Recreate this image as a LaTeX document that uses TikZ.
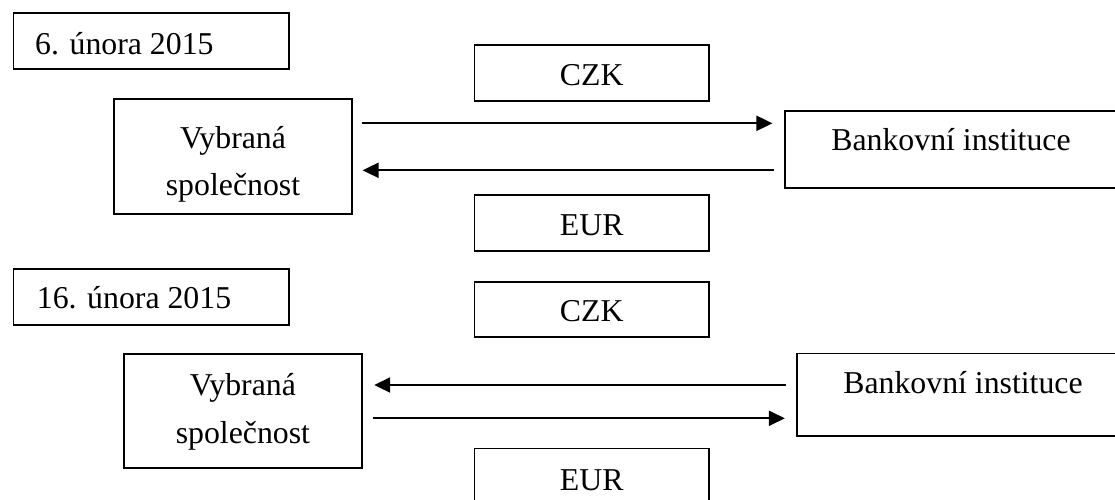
\documentclass[tikz,border=0pt]{standalone}
\usepackage{fontspec}
\setmainfont{Liberation Serif}
\usetikzlibrary{arrows.meta}
\begin{document}
\begin{tikzpicture}[x=1pt,y=-1pt,
  box/.style={draw=black,line width=1.7pt,rectangle,inner sep=0pt},
  txt/.style={inner sep=0pt,font=\fontsize{31.8}{37}\selectfont},
  arr/.style={line width=2pt,-{Triangle[length=16pt,width=15pt]}}]
\useasboundingbox (0,0) rectangle (1115,499);
\clip (0,0) rectangle (1115,499);
% section 1
\node[box,minimum width=275.7pt,minimum height=56pt] (date1) at (151.2,41.3) {};
\node[txt,anchor=base west] (date1t) at (35,54) {6. února 2015};
\node[box,minimum width=237.4pt,minimum height=115pt] (vyb1) at (233,156.8) {};
\node[txt,anchor=base] (vyb1a) at (233,148) {Vybraná};
\node[txt,anchor=base] (vyb1b) at (233,195) {společnost};
\node[box,minimum width=234.7pt,minimum height=56pt] (czk1) at (591.7,72.7) {};
\node[txt,anchor=base] (czk1t) at (591.7,85) {CZK};
\node[box,minimum width=234.7pt,minimum height=55.7pt] (eur1) at (591.7,222.9) {};
\node[txt,anchor=base] (eur1t) at (591.7,235) {EUR};
\node[box,minimum width=332pt,minimum height=77pt] (bank1) at (951,149.2) {};
\node[txt,anchor=base] (bank1t) at (951,150) {Bankovní instituce};
\draw[arr,shorten <=9pt,shorten >=11.7pt] (vyb1.east |- 0,123.3) -- (bank1.west |- 0,123.3);
\draw[arr,shorten <=10pt,shorten >=10pt] (bank1.west |- 0,170.3) -- (vyb1.east |- 0,170.3);
% section 2
\node[box,minimum width=275.7pt,minimum height=56pt] (date2) at (151.2,297) {};
\node[txt,anchor=base west] (date2t) at (36.7,308.3) {16. února 2015};
\node[box,minimum width=237.7pt,minimum height=114pt] (vyb2) at (242.9,411) {};
\node[txt,anchor=base] (vyb2a) at (242.9,395) {Vybraná};
\node[txt,anchor=base] (vyb2b) at (242.9,443) {společnost};
\node[box,minimum width=234.7pt,minimum height=55.6pt] (czk2) at (591.7,309.5) {};
\node[txt,anchor=base] (czk2t) at (591.7,321.7) {CZK};
\node[box,minimum width=234.7pt,minimum height=55.7pt] (eur2) at (591.7,476.2) {};
\node[txt,anchor=base] (eur2t) at (591.7,490) {EUR};
\node[box,minimum width=332pt,minimum height=82.7pt] (bank2) at (963,394.7) {};
\node[txt,anchor=base] (bank2t) at (963,393.3) {Bankovní instituce};
\draw[arr,shorten <=10pt,shorten >=11.6pt] (bank2.west |- 0,385) -- (vyb2.east |- 0,385);
\draw[arr,shorten <=10.6pt,shorten >=11.3pt] (vyb2.east |- 0,418.3) -- (bank2.west |- 0,418.3);
\end{tikzpicture}
\end{document}
